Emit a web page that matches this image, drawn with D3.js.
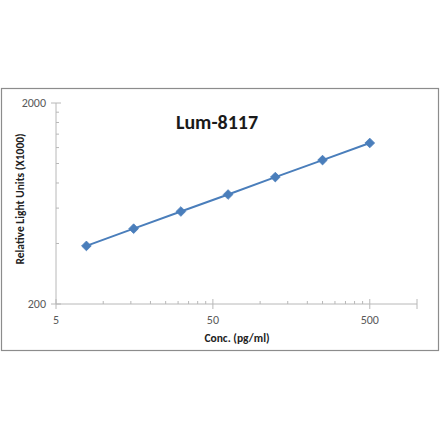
<!DOCTYPE html>
<html>
<head>
<meta charset="utf-8">
<style>
    body { margin: 0; background: #fff; }
    svg { display: block; font-family: Carlito, Calibri, "Open Sans", sans-serif; }
    .tick-label { font-size: 12px; fill: #595959; }
    .axis-title { font-size: 11.5px; font-weight: bold; fill: #222; }
    .title { font-size: 20px; font-weight: bold; fill: #1a1a1a; }
</style>
</head>
<body>
<svg width="440" height="441"></svg>

<script src="https://d3js.org/d3.v7.min.js"></script>
<script>
    // standard curve values
    const conc = [7.8125, 15.625, 31.25, 62.5, 125, 250, 500];
    const rlu = [389, 474, 577, 701, 856, 1040, 1265];

    const xMajor = [5, 50, 500];
    const xMinor = [10, 15, 20, 25, 30, 35, 40, 45, 100, 150, 200, 250, 300, 350, 400, 450];
    const yMajor = [200, 2000];
    const yMinor = [400, 600, 800, 1000, 1200, 1400, 1600, 1800];

    const svg = d3.select("svg");

    // frame around the whole chart
    svg.append("rect")
        .attr("x", 1.5).attr("y", 88.5)
        .attr("width", 437).attr("height", 262)
        .style("fill", "#fff")
        .style("stroke", "#8c8c8c")
        .style("stroke-width", 1.2);

    let x = d3.scaleLog().domain([5, 1000]).range([56, 417]);
    let y = d3.scaleLog().domain([200, 2000]).range([304, 103]);

    const axisColor = "#b8b8b8";

    // y axis
    svg.append("line")
        .attr("x1", 56).attr("x2", 56)
        .attr("y1", y(2000)).attr("y2", y(200))
        .style("stroke", axisColor);
    svg.selectAll(".y-major")
        .data(yMajor)
        .join("line")
        .attr("x1", 51).attr("x2", 61)
        .attr("y1", d => y(d)).attr("y2", d => y(d))
        .style("stroke", axisColor);
    svg.selectAll(".y-minor")
        .data(yMinor)
        .join("line")
        .attr("x1", 56).attr("x2", 59)
        .attr("y1", d => y(d)).attr("y2", d => y(d))
        .style("stroke", axisColor);
    svg.selectAll(".y-label")
        .data(yMajor)
        .join("text")
        .attr("class", "tick-label")
        .attr("x", 46)
        .attr("y", d => y(d) + 4)
        .attr("text-anchor", "end")
        .text(d => d);

    // x axis
    svg.append("line")
        .attr("x1", x(5)).attr("x2", x(1000))
        .attr("y1", 304).attr("y2", 304)
        .style("stroke", axisColor);
    svg.selectAll(".x-major")
        .data(xMajor.concat([1000]))
        .join("line")
        .attr("x1", d => x(d)).attr("x2", d => x(d))
        .attr("y1", 299).attr("y2", 309)
        .style("stroke", axisColor);
    svg.selectAll(".x-minor")
        .data(xMinor)
        .join("line")
        .attr("x1", d => x(d)).attr("x2", d => x(d))
        .attr("y1", 301).attr("y2", 304)
        .style("stroke", axisColor);
    svg.selectAll(".x-label")
        .data(xMajor)
        .join("text")
        .attr("class", "tick-label")
        .attr("x", d => x(d))
        .attr("y", 324)
        .attr("text-anchor", "middle")
        .text(d => d);

    // titles
    svg.append("text")
        .attr("class", "title")
        .attr("x", 217).attr("y", 129)
        .attr("text-anchor", "middle")
        .text("Lum-8117");

    svg.append("text")
        .attr("class", "axis-title")
        .attr("x", 237).attr("y", 342)
        .attr("text-anchor", "middle")
        .text("Conc. (pg/ml)");

    svg.append("text")
        .attr("class", "axis-title")
        .attr("transform", "translate(24,199) rotate(-90)")
        .attr("text-anchor", "middle")
        .text("Relative Light Units (X1000)");

    // curve
    let pts = conc.map((c, i) => [c, rlu[i]]);
    let line = d3.line().x(d => x(d[0])).y(d => y(d[1]));

    svg.append("path")
        .attr("d", line(pts))
        .style("fill", "none")
        .style("stroke", "#4a7ebb")
        .style("stroke-width", 2);

    svg.selectAll(".pt")
        .data(pts)
        .join("path")
        .attr("d", d3.symbol().type(d3.symbolDiamond2).size(60))
        .attr("transform", d => "translate(" + x(d[0]) + "," + y(d[1]) + ")")
        .style("fill", "#4a7ebb")
        .style("stroke", "#4a7ebb")
        .style("stroke-width", 0.8);
</script>
</body>
</html>
